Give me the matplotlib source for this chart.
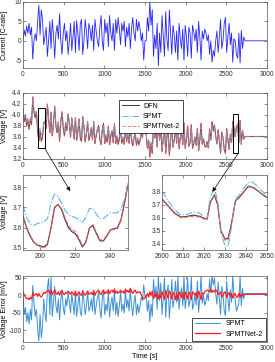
import numpy as np
import matplotlib
matplotlib.use('Agg')
import matplotlib.pyplot as plt
from matplotlib.patches import Rectangle, ConnectionPatch

plt.rcParams['font.family'] = ['Liberation Sans', 'DejaVu Sans']
plt.rcParams['font.size'] = 5.5
plt.rcParams['axes.unicode_minus'] = False
plt.rcParams['axes.linewidth'] = 0.5
plt.rcParams['axes.edgecolor'] = '#555555'
plt.rcParams['xtick.direction'] = 'in'
plt.rcParams['ytick.direction'] = 'in'
plt.rcParams['xtick.major.size'] = 2
plt.rcParams['ytick.major.size'] = 2
plt.rcParams['xtick.major.width'] = 0.4
plt.rcParams['ytick.major.width'] = 0.4
plt.rcParams['xtick.major.pad'] = 2
plt.rcParams['ytick.major.pad'] = 1
plt.rcParams['xtick.top'] = True
plt.rcParams['ytick.right'] = True

# drive cycle read every 15 s up to 2730 s, last value = rest at 3000 s
current = [
    0.0, 2.8, 1.2, 3.8, 2.0, 4.5, 1.5, 3.5, -4.7, 0.0,
    1.8, 0.0, 5.0, 9.2, 1.5, 8.0, 5.5, -1.0, 1.0, 3.5,
    -4.0, 0.0, 5.0, -2.0, 5.5, 1.5, -4.5, 2.0, 4.0, 0.5,
    7.0, 0.0, -3.5, 2.0, 4.5, 0.0, 2.5, -3.5, 0.0, 4.5,
    -2.5, 1.0, 5.0, -3.0, 5.2, 2.0, -2.5, 4.5, 5.5, -3.5,
    0.0, 5.5, 2.5, -2.0, 4.5, 3.0, 0.0, 4.0, -2.5, 5.5,
    2.5, 0.0, -1.5, 3.5, 6.5, 0.0, -2.5, 5.5, 2.0, 4.5,
    -1.5, 6.5, 2.0, 0.0, 4.5, -2.5, 5.5, 2.0, 6.0, 3.0,
    -1.0, 4.5, 2.5, 5.0, -1.5, 3.5, 1.0, 4.5, -2.0, 3.0,
    6.0, 2.0, 0.0, 5.5, 2.5, 5.0, 3.0, 0.0, 2.0, -5.0,
    0.0, 0.0, 6.0, 2.5, 10.0, 4.0, 8.0, -4.0, 1.5, -2.0,
    4.5, -6.5, 2.0, -3.0, 6.5, 1.0, -4.0, 7.5, 0.5, -2.5,
    8.0, 2.0, -3.5, 4.0, 1.5, -3.0, 2.5, -5.0, 4.5, 0.5,
    -2.0, 3.0, -5.0, 4.0, 1.0, -4.0, 3.5, 2.0, -4.5, 4.0,
    2.5, 0.0, 3.0, -3.0, 5.0, 1.0, -5.0, 2.5, 0.5, 3.0,
    2.0, 0.0, 1.5, -3.5, 0.0, -5.5, -2.5, -4.0, 0.0, 2.5,
    -3.0, 1.0, 5.5, -2.0, 0.0, 4.5, 6.0, -3.0, 1.0, 4.5,
    -1.0, 2.0, -5.5, 0.5, 0.0, -3.5, -4.5, 2.0, -5.7, 2.7,
    -2.0, 1.0, 0.0, 0.0]

v_dfn = [
    4.12, 3.88, 3.98, 3.80, 3.90, 3.74, 3.92, 3.82, 4.33, 4.06,
    3.95, 4.05, 3.70, 3.53, 3.71, 3.52, 3.59, 3.85, 3.88, 3.76,
    4.20, 3.95, 3.68, 4.05, 3.62, 3.84, 4.16, 3.80, 3.68, 3.87,
    3.52, 3.88, 4.06, 3.76, 3.62, 3.86, 3.72, 4.02, 3.84, 3.60,
    3.95, 3.76, 3.56, 3.96, 3.54, 3.70, 3.93, 3.57, 3.52, 3.97,
    3.79, 3.51, 3.65, 3.88, 3.54, 3.62, 3.77, 3.55, 3.88, 3.48,
    3.62, 3.74, 3.81, 3.56, 3.46, 3.73, 3.85, 3.48, 3.62, 3.51,
    3.80, 3.46, 3.61, 3.71, 3.50, 3.84, 3.48, 3.61, 3.47, 3.56,
    3.76, 3.49, 3.58, 3.47, 3.78, 3.52, 3.64, 3.49, 3.80, 3.55,
    3.44, 3.58, 3.68, 3.45, 3.56, 3.46, 3.54, 3.67, 3.58, 3.92,
    3.66, 3.66, 3.40, 3.54, 3.24, 3.48, 3.30, 3.85, 3.58, 3.75,
    3.42, 3.90, 3.54, 3.78, 3.34, 3.58, 3.82, 3.30, 3.60, 3.75,
    3.27, 3.52, 3.79, 3.42, 3.54, 3.76, 3.49, 3.85, 3.39, 3.59,
    3.71, 3.46, 3.85, 3.40, 3.55, 3.80, 3.43, 3.50, 3.82, 3.40,
    3.48, 3.60, 3.45, 3.75, 3.35, 3.55, 3.84, 3.47, 3.57, 3.44,
    3.42, 3.52, 3.40, 3.75, 3.55, 3.88, 3.72, 3.82, 3.62, 3.48,
    3.73, 3.53, 3.31, 3.69, 3.59, 3.37, 3.30, 3.75, 3.55, 3.38,
    3.65, 3.50, 3.88, 3.76, 3.61, 3.78, 3.82, 3.50, 3.90, 3.47,
    3.72, 3.56, 3.61, 3.61]

# voltage error DFN - model [mV]
err_spmt = [
    0, -55, -35, -75, -50, -82, -40, -70, 28, -20,
    -60, -40, -95, -130, -55, -120, -90, -10, -50, -75,
    20, 48, -55, 52, -60, -20, 25, -30, -50, -10,
    -70, -15, 15, -35, -55, -10, -30, 10, -20, -50,
    5, -25, -55, 10, -60, -30, 8, -50, -58, 15,
    -15, -55, -30, 12, -45, -35, -10, -45, 15, -55,
    -30, -8, 10, -40, -65, -10, 15, -55, -25, -45,
    12, -62, -25, -5, -45, 18, -55, -20, -60, -30,
    10, -45, -25, -50, 14, -35, -12, -45, 18, -30,
    -58, -20, 0, -55, -25, -50, -30, -5, -15, 30,
    -5, 0, -45, -15, -75, -25, -60, 45, -5, 25,
    -40, 55, -15, 35, -55, -5, 50, -62, 5, 30,
    -65, -15, 45, -35, -10, 40, -20, 55, -40, 0,
    22, -30, 55, -38, -5, 50, -32, -15, 52, -40,
    -25, 5, -28, 40, -48, -8, 55, -22, 0, -28,
    -18, 5, -15, 45, 8, 55, 30, 50, 5, -25,
    38, -10, -55, 25, 5, -45, -58, 40, -8, -45,
    15, -20, 55, -5, -10, -45, -35, -20, 55, -30,
    20, -10, 5, 5]

err_net = [
    10, 2, -5, -10, -8, -12, -6, -10, 8, 0,
    2, 5, -3, 5, -2, -5, 0, 8, 5, 10,
    12, 15, 5, 14, 2, 10, 15, 6, 3, 10,
    0, 10, 14, 5, 2, 8, 6, 12, 8, 3,
    10, 5, 0, 12, -2, 5, 10, 2, 0, 12,
    5, 0, 6, 12, 3, 5, 8, 2, 13, 0,
    8, 12, 15, 6, 2, 10, 15, 4, 10, 6,
    16, 5, 12, 15, 8, 18, 6, 12, 5, 10,
    15, 8, 12, 6, 18, 10, 14, 8, 20, 12,
    5, 12, 15, 6, 10, 8, 10, 0, -5, -10,
    -8, -2, 5, -5, 10, 0, 12, -10, 5, -5,
    8, -10, 3, -8, 10, 0, -12, 14, 2, -8,
    12, 5, -10, 8, 3, -12, 6, -14, 10, 2,
    -6, 8, -12, 10, 2, -10, 9, 4, -12, 10,
    6, 0, 8, -8, 12, 2, -12, 7, 3, 10,
    12, 15, 14, 10, 18, 8, 14, 10, 16, 12,
    2, 5, 10, -5, 0, 8, 10, -6, 3, 8,
    -3, 5, -8, 2, 5, -5, -5, 6, -6, 4,
    -2, 3, 3, 3]

# zoom window 1
t_z1 = [190, 192, 194, 196, 198, 200, 202, 204, 206, 208, 210, 212, 214, 216,
        218, 220, 222, 224, 226, 228, 230, 232, 234, 236, 238, 240, 242, 244,
        246, 248, 250]
dfn_z1 = [3.655, 3.60, 3.56, 3.53, 3.515, 3.51, 3.505, 3.52, 3.60, 3.70, 3.715,
          3.69, 3.64, 3.60, 3.58, 3.57, 3.54, 3.505, 3.53, 3.60, 3.61, 3.57,
          3.535, 3.535, 3.56, 3.59, 3.595, 3.60, 3.64, 3.72, 3.81]
net_z1 = [3.66, 3.605, 3.565, 3.53, 3.515, 3.505, 3.50, 3.515, 3.595, 3.695,
          3.715, 3.695, 3.65, 3.61, 3.59, 3.58, 3.55, 3.51, 3.535, 3.60, 3.615,
          3.575, 3.54, 3.54, 3.565, 3.59, 3.59, 3.595, 3.635, 3.72, 3.82]
spmt_z1 = [3.71, 3.65, 3.62, 3.61, 3.62, 3.625, 3.63, 3.645, 3.72, 3.765,
           3.755, 3.72, 3.685, 3.665, 3.655, 3.65, 3.64, 3.625, 3.655, 3.695,
           3.695, 3.665, 3.645, 3.645, 3.66, 3.675, 3.672, 3.675, 3.69, 3.74,
           3.81]

# zoom window 2
t_z2 = [2600, 2603, 2606, 2609, 2612, 2615, 2618, 2620, 2621.5, 2623, 2625,
        2626.5, 2628, 2630, 2631.5, 2633, 2635, 2637, 2639, 2641, 2643, 2645,
        2647, 2650]
dfn_z2 = [3.745, 3.69, 3.635, 3.605, 3.61, 3.62, 3.61, 3.595, 3.59, 3.72,
          3.775, 3.70, 3.50, 3.435, 3.44, 3.55, 3.73, 3.76, 3.80, 3.84, 3.835,
          3.815, 3.79, 3.755]
net_z2 = [3.74, 3.685, 3.63, 3.60, 3.605, 3.61, 3.605, 3.59, 3.585, 3.715,
          3.78, 3.71, 3.51, 3.425, 3.43, 3.545, 3.735, 3.765, 3.805, 3.845,
          3.84, 3.82, 3.79, 3.75]
spmt_z2 = [3.805, 3.73, 3.66, 3.62, 3.625, 3.645, 3.635, 3.60, 3.595, 3.76,
           3.825, 3.73, 3.48, 3.385, 3.38, 3.52, 3.745, 3.78, 3.83, 3.87,
           3.875, 3.85, 3.815, 3.77]


def time_axis(vals):
    return np.r_[np.arange(len(vals) - 1) * 15.0, 3000.0]


c_dfn = '#3a3a3a'
c_spmt = '#5cb6ea'
c_net = '#ff4d4d'

v_dfn = np.array(v_dfn)
v_spmt = v_dfn - np.array(err_spmt) / 1000.0
v_net = v_dfn - np.array(err_net) / 1000.0

fig = plt.figure(figsize=(2.75, 3.62), dpi=100)
ax1 = fig.add_axes([0.0836, 0.8122, 0.887, 0.1823])
ax2 = fig.add_axes([0.0836, 0.5608, 0.887, 0.1823])
ax3 = fig.add_axes([0.0836, 0.3094, 0.3818, 0.2072])
ax4 = fig.add_axes([0.5891, 0.3094, 0.3818, 0.2072])
ax5 = fig.add_axes([0.0836, 0.0552, 0.887, 0.1823])

# current
ax1.plot(time_axis(current), current, color='#2424ff', lw=0.6)
ax1.set_xlim(0, 3000)
ax1.set_ylim(-7, 10)
ax1.set_yticks([-5, 0, 5, 10])
ax1.set_xticks(range(0, 3001, 500))
ax1.set_ylabel('Current [C-rate]', fontsize=5)

# voltage
t = time_axis(v_dfn)
ax2.plot(t, v_dfn, color=c_dfn, lw=0.7, label='DFN')
ax2.plot(t, v_spmt, color=c_spmt, lw=0.7, ls='-.', label='SPMT')
ax2.plot(t, v_net, color=c_net, lw=0.7, ls='--', alpha=0.75, label='SPMTNet-2')
ax2.set_xlim(0, 3000)
ax2.set_ylim(3.2, 4.4)
ax2.set_yticks(np.round(np.arange(3.2, 4.41, 0.2), 1))
ax2.set_xticks(range(0, 3001, 500))
ax2.set_ylabel('Voltage [V]', fontsize=5)
ax2.legend(loc='upper left', bbox_to_anchor=(0.381, 0.95), fontsize=5,
           frameon=True, fancybox=False, edgecolor='black', framealpha=1,
           handlelength=2.4, handletextpad=0.6, borderpad=0.4,
           labelspacing=0.5).get_frame().set_linewidth(0.5)

r1 = Rectangle((185, 3.40), 80, 0.72, fill=False, ec='black', lw=0.7, zorder=5)
r2 = Rectangle((2585, 3.31), 65, 0.70, fill=False, ec='black', lw=0.7, zorder=5)
ax2.add_patch(r1)
ax2.add_patch(r2)

# zoom 1
ax3.plot(t_z1, dfn_z1, color=c_dfn, lw=0.8)
ax3.plot(t_z1, spmt_z1, color=c_spmt, lw=0.8, ls='-.')
ax3.plot(t_z1, net_z1, color=c_net, lw=0.8, ls='--', alpha=0.85)
ax3.set_xlim(190, 250)
ax3.set_ylim(3.49, 3.86)
ax3.set_xticks([200, 220, 240])
ax3.set_yticks([3.5, 3.6, 3.7, 3.8])
ax3.set_ylabel('Voltage [V]', fontsize=5)

# zoom 2
ax4.plot(t_z2, dfn_z2, color=c_dfn, lw=0.8)
ax4.plot(t_z2, spmt_z2, color=c_spmt, lw=0.8, ls='-.')
ax4.plot(t_z2, net_z2, color=c_net, lw=0.8, ls='--', alpha=0.85)
ax4.set_xlim(2600, 2650)
ax4.set_ylim(3.35, 3.93)
ax4.set_xticks(range(2600, 2651, 10))
ax4.set_yticks([3.4, 3.5, 3.6, 3.7, 3.8])

# voltage error
ax5.plot(time_axis(err_spmt), err_spmt, color='#3a8fd6', lw=0.7, label='SPMT')
ax5.plot(time_axis(err_net), err_net, color='#ff1a1a', lw=0.9, label='SPMTNet-2')
ax5.set_xlim(0, 3000)
ax5.set_ylim(-133, 55)
ax5.set_yticks([-100, -50, 0, 50])
ax5.set_xticks(range(0, 3001, 500))
ax5.set_ylabel('Voltage Error [mV]', fontsize=5)
ax5.set_xlabel('Time [s]', fontsize=5.2, labelpad=1)
ax5.legend(loc='lower right', fontsize=5, frameon=True, fancybox=False,
           edgecolor='black', framealpha=1, handlelength=3.6, borderpad=0.4,
           borderaxespad=0.2).get_frame().set_linewidth(0.5)

for ax in (ax1, ax2, ax3, ax4, ax5):
    ax.tick_params(labelsize=4.8, colors='#333333')

# y labels placed like the original (x is the label's right edge)
for ax in (ax1, ax2, ax5):
    ax.yaxis.set_label_coords(-0.061, 0.5)
ax3.yaxis.set_label_coords(-0.143, 0.5)

# arrows from the boxes to the zoomed panels
for xa, ya, axb, xb, yb in [(265, 3.40, ax3, 217, 3.78),
                             (2650, 3.31, ax4, 2624, 3.80)]:
    con = ConnectionPatch(xyA=(xa, ya), coordsA=ax2.transData,
                          xyB=(xb, yb), coordsB=axb.transData,
                          arrowstyle='-|>', mutation_scale=6,
                          color='black', lw=0.5, zorder=10)
    fig.add_artist(con)

fig.savefig('out.png', dpi=100)
